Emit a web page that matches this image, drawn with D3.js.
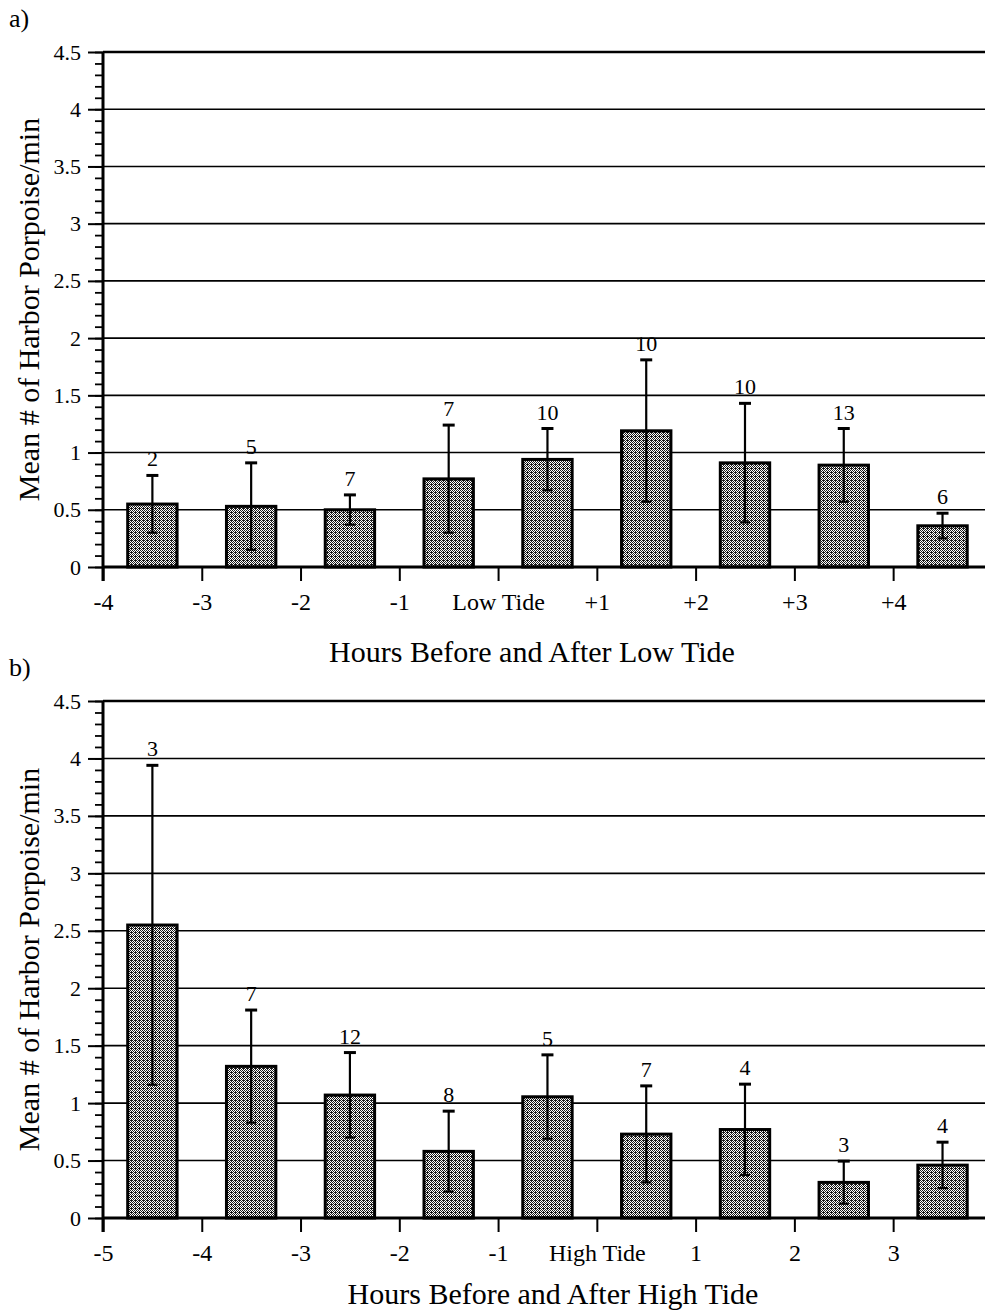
<!DOCTYPE html>
<html>
<head>
<meta charset="utf-8">
<script src="https://cdn.jsdelivr.net/npm/d3@7"></script>
<style>
body { margin: 0; background: #fff; }
svg text { font-family: "Liberation Serif", "Times New Roman", serif; fill: #000; }
</style>
</head>
<body>
<div class="svgContainer"></div>
<script>
// Panel a) hours relative to low tide (start of each one hour bin)
var LOW_HOURS = [-4, -3, -2, -1, 0, 1, 2, 3, 4];
var LOW_MEAN = [0.55, 0.53, 0.50, 0.77, 0.94, 1.19, 0.91, 0.89, 0.36];
var LOW_ERR = [0.25, 0.38, 0.13, 0.47, 0.27, 0.62, 0.52, 0.32, 0.11];
var LOW_N = [2, 5, 7, 7, 10, 10, 10, 13, 6];
var LOW_TICKS = ["-4", "-3", "-2", "-1", "Low Tide", "+1", "+2", "+3", "+4"];

// Panel b) hours relative to high tide
var HIGH_HOURS = [-5, -4, -3, -2, -1, 0, 1, 2, 3];
var HIGH_MEAN = [2.55, 1.32, 1.07, 0.58, 1.055, 0.73, 0.77, 0.31, 0.46];
var HIGH_ERR = [1.39, 0.49, 0.37, 0.35, 0.365, 0.42, 0.395, 0.185, 0.20];
var HIGH_N = [3, 7, 12, 8, 5, 7, 4, 3, 4];
var HIGH_TICKS = ["-5", "-4", "-3", "-2", "-1", "High Tide", "1", "2", "3"];

var Y_TICKS = [0, 0.5, 1, 1.5, 2, 2.5, 3, 3.5, 4, 4.5];
var Y_MINOR = d3.range(0, 4.51, 0.1);
var Y_TITLE = "Mean # of Harbor Porpoise/min";

var width = 985, height = 1313;

var svg = d3.select(".svgContainer").append("svg")
    .attr("width", width)
    .attr("height", height);

// stippled fill for the bars
var pat = svg.append("defs").append("pattern")
    .attr("id", "stipple")
    .attr("patternUnits", "userSpaceOnUse")
    .attr("width", 4)
    .attr("height", 4);
pat.append("rect").attr("width", 4).attr("height", 4).attr("fill", "#fff");
[[0, 0], [2, 0], [1, 1], [3, 1], [0, 2], [2, 2], [1, 3], [3, 3], [3, 0]].forEach(function(p) {
    pat.append("rect").attr("x", p[0]).attr("y", p[1]).attr("width", 1).attr("height", 1).attr("fill", "#1a1a1a");
});

function drawPanel(cfg) {
    var g = svg.append("g");

    var x = d3.scaleLinear()
        .domain([cfg.hours[0], cfg.hours[0] + 8.93])
        .range([103, width]);
    var y = d3.scaleLinear()
        .domain([0, 4.5])
        .range([cfg.bottom, cfg.top]);

    // horizontal grid lines
    g.selectAll(".grid")
        .data(Y_TICKS.filter(function(d) { return d > 0; }))
        .enter().append("line")
        .attr("x1", x.range()[0])
        .attr("x2", x.range()[1])
        .attr("y1", function(d) { return y(d); })
        .attr("y2", function(d) { return y(d); })
        .attr("stroke", "#000")
        .attr("stroke-width", function(d) { return d == 4.5 ? 2.5 : 1.6; });

    // bars
    g.selectAll(".bar")
        .data(cfg.mean)
        .enter().append("rect")
        .attr("x", function(d, i) { return x(cfg.hours[i] + 0.25); })
        .attr("width", function(d, i) { return x(cfg.hours[i] + 0.75) - x(cfg.hours[i] + 0.25); })
        .attr("y", function(d) { return y(d); })
        .attr("height", function(d) { return y(0) - y(d); })
        .attr("fill", "url(#stipple)")
        .attr("stroke", "#000")
        .attr("stroke-width", 3);

    // y axis: major ticks with labels, minor ticks
    var yAxis = g.append("g")
        .attr("transform", "translate(" + x.range()[0] + ",0)")
        .call(d3.axisLeft(y).tickValues(Y_TICKS).tickSize(15).tickPadding(7)
            .tickFormat(d3.format("")));
    yAxis.select(".domain").remove();
    yAxis.selectAll("line").attr("stroke-width", 2);
    yAxis.attr("font-family", null).attr("font-size", 22);

    var yMinor = g.append("g")
        .attr("transform", "translate(" + x.range()[0] + ",0)")
        .call(d3.axisLeft(y).tickValues(Y_MINOR).tickSize(8).tickFormat(""));
    yMinor.select(".domain").remove();
    yMinor.selectAll("line").attr("stroke-width", 1.8);

    // x axis
    var xAxis = g.append("g")
        .attr("transform", "translate(0," + y(0) + ")")
        .call(d3.axisBottom(x).tickValues(cfg.hours).tickSize(14).tickPadding(12)
            .tickFormat(function(d, i) { return cfg.ticks[i]; }));
    xAxis.select(".domain").remove();
    xAxis.selectAll("line").attr("stroke-width", 2);
    xAxis.attr("font-family", null).attr("font-size", 24);

    // axis lines
    g.append("line")
        .attr("x1", x.range()[0]).attr("x2", x.range()[1])
        .attr("y1", y(0)).attr("y2", y(0))
        .attr("stroke", "#000").attr("stroke-width", 3);
    g.append("line")
        .attr("x1", x.range()[0]).attr("x2", x.range()[0])
        .attr("y1", y(4.5)).attr("y2", y(0) + 14)
        .attr("stroke", "#000").attr("stroke-width", 3);

    // error bars
    var eb = g.selectAll(".err")
        .data(cfg.mean)
        .enter().append("g")
        .attr("transform", function(d, i) { return "translate(" + x(cfg.hours[i] + 0.5) + ",0)"; });
    eb.append("line")
        .attr("y1", function(d, i) { return y(d + cfg.err[i]); })
        .attr("y2", function(d, i) { return y(d - cfg.err[i]); })
        .attr("stroke", "#000").attr("stroke-width", 2.2);
    eb.append("line")
        .attr("x1", -6).attr("x2", 6)
        .attr("y1", function(d, i) { return y(d + cfg.err[i]); })
        .attr("y2", function(d, i) { return y(d + cfg.err[i]); })
        .attr("stroke", "#000").attr("stroke-width", 3);
    eb.append("line")
        .attr("x1", -5).attr("x2", 5)
        .attr("y1", function(d, i) { return y(d - cfg.err[i]); })
        .attr("y2", function(d, i) { return y(d - cfg.err[i]); })
        .attr("stroke", "#000").attr("stroke-width", 2.2);

    // sample sizes above the bars
    eb.append("text")
        .attr("y", function(d, i) { return y(d + cfg.err[i]) - 9; })
        .attr("text-anchor", "middle")
        .attr("font-size", 22)
        .text(function(d, i) { return cfg.n[i]; });

    // titles
    g.append("text")
        .attr("x", cfg.titleX)
        .attr("y", y(0) + cfg.titleDy)
        .attr("text-anchor", "middle")
        .attr("font-size", 30)
        .text(cfg.title);

    g.append("text")
        .attr("transform", "translate(39," + ((cfg.top + cfg.bottom) / 2) + ") rotate(-90)")
        .attr("text-anchor", "middle")
        .attr("font-size", 30)
        .text(Y_TITLE);

    g.append("text")
        .attr("x", 9)
        .attr("y", cfg.top - 25)
        .attr("font-size", 26)
        .text(cfg.label);
}

drawPanel({
    hours: LOW_HOURS, mean: LOW_MEAN, err: LOW_ERR, n: LOW_N, ticks: LOW_TICKS,
    top: 52, bottom: 567, title: "Hours Before and After Low Tide",
    titleX: 532, titleDy: 95, label: "a)"
});

drawPanel({
    hours: HIGH_HOURS, mean: HIGH_MEAN, err: HIGH_ERR, n: HIGH_N, ticks: HIGH_TICKS,
    top: 701, bottom: 1218, title: "Hours Before and After High Tide",
    titleX: 553, titleDy: 86, label: "b)"
});
</script>
</body>
</html>
